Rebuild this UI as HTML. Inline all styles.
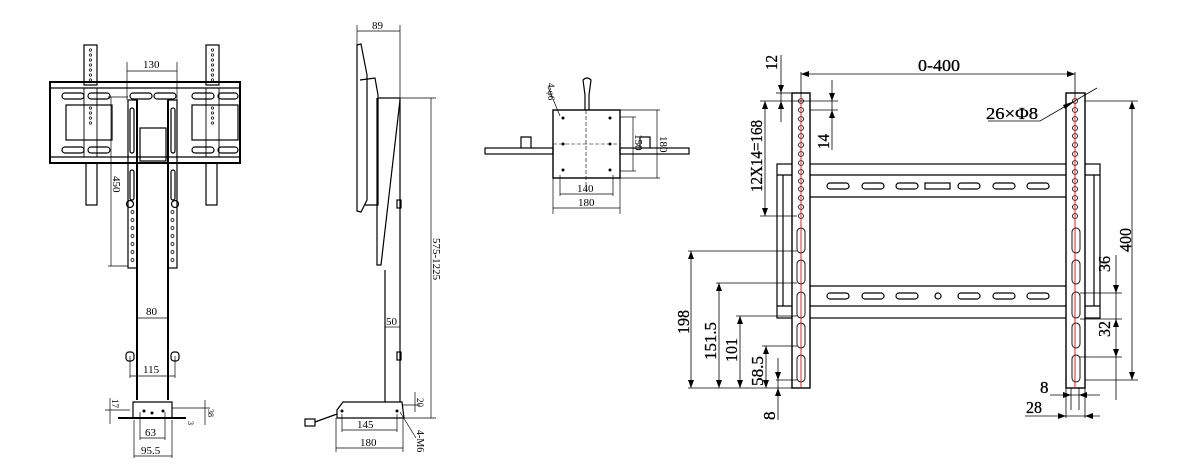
<!DOCTYPE html>
<html><head><meta charset="utf-8"><style>
html,body{margin:0;padding:0;background:#fff;width:1200px;height:475px;overflow:hidden}
svg text{font-family:"Liberation Serif",serif;fill:#000}
</style></head><body>
<svg width="1200" height="475" viewBox="0 0 1200 475" xmlns="http://www.w3.org/2000/svg">
<g fill="none" stroke="#000" stroke-width="1.2">
<!-- ===== LEFT FRONT VIEW ===== -->
<rect x="84" y="45" width="13" height="40"/><rect x="206" y="45" width="13" height="40"/>
<rect x="50" y="82" width="190" height="81" stroke-width="2"/>
<line x1="50" y1="88" x2="240" y2="88"/><line x1="50" y1="157" x2="240" y2="157"/>
<rect x="66" y="105" width="46" height="35"/><rect x="192" y="105" width="46" height="35"/>
<rect x="84" y="88" width="13" height="69" stroke-width="0.9"/><rect x="206" y="88" width="13" height="69" stroke-width="0.9"/>
<rect x="62" y="93" width="22" height="6" rx="3"/><rect x="88" y="93" width="22" height="6" rx="3"/>
<rect x="62" y="147" width="22" height="6" rx="3"/><rect x="88" y="147" width="22" height="6" rx="3"/>
<rect x="130" y="93" width="22" height="6" rx="3"/><rect x="154" y="93" width="22" height="6" rx="3"/>
<rect x="192" y="93" width="22" height="6" rx="3"/><rect x="218" y="93" width="20" height="6" rx="3"/>
<rect x="192" y="147" width="22" height="6" rx="3"/><rect x="218" y="147" width="20" height="6" rx="3"/>
<rect x="86" y="163" width="11" height="42"/><rect x="206" y="163" width="11" height="42"/>
<rect x="128" y="100" width="9" height="168"/><rect x="168" y="100" width="9" height="168"/>
<rect x="130" y="108" width="4" height="45" rx="2"/><rect x="171" y="108" width="4" height="45" rx="2"/>
<rect x="130" y="170" width="4" height="30" rx="2"/><rect x="171" y="170" width="4" height="30" rx="2"/>
<circle cx="130" cy="204" r="3.5"/><circle cx="175" cy="204" r="3.5"/>
<rect x="140" y="128" width="26" height="33"/>
<line x1="137" y1="100" x2="137" y2="400" stroke-width="2"/><line x1="168" y1="100" x2="168" y2="400" stroke-width="2"/>
<rect x="126" y="352" width="8" height="9" rx="3"/><rect x="171" y="352" width="8" height="9" rx="3"/>
<path d="M133 418 V402 H172 V418"/><line x1="118" y1="418" x2="186" y2="418" stroke-width="2"/>
<g stroke-width="0.7">
<circle cx="90.5" cy="50" r="1.2"/><circle cx="90.5" cy="55" r="1.2"/><circle cx="90.5" cy="60" r="1.2"/><circle cx="90.5" cy="65" r="1.2"/><circle cx="90.5" cy="70" r="1.2"/><circle cx="90.5" cy="75" r="1.2"/><circle cx="90.5" cy="80" r="1.2"/>
<circle cx="212.5" cy="50" r="1.2"/><circle cx="212.5" cy="55" r="1.2"/><circle cx="212.5" cy="60" r="1.2"/><circle cx="212.5" cy="65" r="1.2"/><circle cx="212.5" cy="70" r="1.2"/><circle cx="212.5" cy="75" r="1.2"/><circle cx="212.5" cy="80" r="1.2"/>
<circle cx="90.5" cy="108" r="1.2"/><circle cx="90.5" cy="113" r="1.2"/><circle cx="90.5" cy="118" r="1.2"/><circle cx="90.5" cy="123" r="1.2"/>
<circle cx="212.5" cy="108" r="1.2"/><circle cx="212.5" cy="113" r="1.2"/><circle cx="212.5" cy="118" r="1.2"/><circle cx="212.5" cy="123" r="1.2"/>
<circle cx="132.5" cy="212" r="1.5"/><circle cx="132.5" cy="220" r="1.5"/><circle cx="132.5" cy="228" r="1.5"/><circle cx="132.5" cy="236" r="1.5"/><circle cx="132.5" cy="244" r="1.5"/><circle cx="132.5" cy="252" r="1.5"/><circle cx="132.5" cy="260" r="1.5"/>
<circle cx="172.5" cy="212" r="1.5"/><circle cx="172.5" cy="220" r="1.5"/><circle cx="172.5" cy="228" r="1.5"/><circle cx="172.5" cy="236" r="1.5"/><circle cx="172.5" cy="244" r="1.5"/><circle cx="172.5" cy="252" r="1.5"/><circle cx="172.5" cy="260" r="1.5"/>
</g>
<!-- dims -->
<g stroke-width="0.7">
<line x1="127" y1="62" x2="127" y2="100"/><line x1="177" y1="62" x2="177" y2="100"/><line x1="127" y1="71" x2="177" y2="71"/>
<line x1="108" y1="97" x2="128" y2="97"/><line x1="108" y1="266" x2="128" y2="266"/><line x1="111" y1="97" x2="111" y2="266"/>
<line x1="137" y1="318" x2="168" y2="318"/>
<line x1="130" y1="356" x2="130" y2="378"/><line x1="175" y1="356" x2="175" y2="378"/><line x1="130" y1="376" x2="175" y2="376"/>
<line x1="110" y1="398" x2="110" y2="424"/><line x1="105" y1="410" x2="130" y2="410"/>
<line x1="172" y1="408" x2="210" y2="408"/><line x1="205" y1="400" x2="205" y2="425"/>
<line x1="140" y1="412" x2="140" y2="440"/><line x1="165" y1="412" x2="165" y2="440"/><line x1="140" y1="438" x2="165" y2="438"/>
<line x1="134" y1="420" x2="134" y2="458"/><line x1="172" y1="420" x2="172" y2="458"/><line x1="134" y1="456" x2="172" y2="456"/>
</g>
<!-- ===== SIDE VIEW ===== -->
<path d="M357 45 L361 44 L367 75 L367 200 L361 212 L357 211 Z"/>
<path d="M360 80 L375 78 L378 95 L378 205 L365 205"/>
<line x1="378" y1="98" x2="400" y2="98"/>
<path d="M377 98 L377 265 L381 265 L400 100"/>
<line x1="400" y1="98" x2="400" y2="402"/><line x1="385" y1="270" x2="385" y2="402"/>
<rect x="397" y="200" width="4" height="8"/><rect x="397" y="352" width="4" height="8"/>
<path d="M337 418 V410 L343 402 H402 L404 418 Z"/>
<rect x="305" y="419" width="10" height="7"/><line x1="315" y1="422" x2="337" y2="414"/>
<g stroke-width="0.7">
<line x1="357" y1="25" x2="357" y2="48"/><line x1="400" y1="25" x2="400" y2="98"/><line x1="357" y1="31" x2="400" y2="31"/>
<line x1="400" y1="98" x2="436" y2="98"/><line x1="402" y1="418" x2="436" y2="418"/><line x1="431" y1="98" x2="431" y2="418"/>
<line x1="385" y1="327" x2="400" y2="327"/>
<line x1="403" y1="405" x2="420" y2="405"/><line x1="415" y1="392" x2="415" y2="412"/>
<line x1="400" y1="412" x2="416" y2="438"/>
<line x1="342" y1="414" x2="342" y2="432"/><line x1="397" y1="414" x2="397" y2="432"/><line x1="342" y1="430" x2="397" y2="430"/>
<line x1="336" y1="418" x2="336" y2="452"/><line x1="403" y1="418" x2="403" y2="452"/><line x1="336" y1="448" x2="403" y2="448"/>
</g>
<!-- ===== TOP VIEW ===== -->
<rect x="553" y="110" width="67" height="68" stroke-width="1.4"/>
<rect x="485" y="148" width="68" height="6"/><rect x="620" y="148" width="69" height="6"/>
<path d="M521 148 V137 H531 V148"/><path d="M640 148 V137 H650 V148"/>
<path d="M585 110 V95 L583 80 Q587 76 591 80 L589 95 V110"/>
<g stroke-width="0.6" stroke-dasharray="4,2"><line x1="586" y1="110" x2="586" y2="190"/><line x1="553" y1="144" x2="620" y2="144"/></g>
<g stroke-width="0.7">
<line x1="560" y1="175" x2="560" y2="196"/><line x1="613" y1="175" x2="613" y2="196"/><line x1="560" y1="194" x2="613" y2="194"/>
<line x1="553" y1="178" x2="553" y2="214"/><line x1="620" y1="178" x2="620" y2="214"/><line x1="553" y1="208" x2="620" y2="208"/>
<line x1="620" y1="117" x2="636" y2="117"/><line x1="620" y1="171" x2="636" y2="171"/><line x1="633" y1="117" x2="633" y2="171"/>
<line x1="620" y1="110" x2="660" y2="110"/><line x1="620" y1="178" x2="660" y2="178"/><line x1="657" y1="110" x2="657" y2="178"/>
<line x1="548" y1="87" x2="560" y2="116"/>
</g>
<!-- ===== RIGHT BRACKET ===== -->
<rect x="777" y="164" width="323" height="154"/>
<line x1="783" y1="175" x2="783" y2="306"/><line x1="1094" y1="175" x2="1094" y2="306"/>
<line x1="777" y1="175" x2="1100" y2="175"/><line x1="810" y1="197" x2="1066" y2="197"/>
<line x1="810" y1="286" x2="1066" y2="286"/><line x1="777" y1="306" x2="1100" y2="306"/>
<g>
<rect x="827" y="183" width="22" height="6" rx="3"/><rect x="862" y="183" width="22" height="6" rx="3"/><rect x="896" y="183" width="22" height="6" rx="3"/><rect x="925" y="183" width="25" height="6"/><rect x="958" y="183" width="22" height="6" rx="3"/><rect x="993" y="183" width="22" height="6" rx="3"/><rect x="1027" y="183" width="22" height="6" rx="3"/>
<rect x="827" y="293" width="22" height="6" rx="3"/><rect x="862" y="293" width="22" height="6" rx="3"/><rect x="896" y="293" width="22" height="6" rx="3"/><circle cx="938" cy="296" r="3"/><rect x="958" y="293" width="22" height="6" rx="3"/><rect x="993" y="293" width="22" height="6" rx="3"/><rect x="1027" y="293" width="22" height="6" rx="3"/>
</g>
<rect x="792" y="93" width="18" height="295" fill="#fff" stroke-width="1.4"/>
<rect x="1066" y="93" width="19" height="295" fill="#fff" stroke-width="1.4"/>
<g stroke-width="0.9">
<rect x="797" y="228" width="8" height="25" rx="4"/><rect x="797" y="260" width="8" height="24" rx="4"/><rect x="797" y="292" width="8" height="26" rx="4"/><rect x="797" y="323" width="8" height="25" rx="4"/><rect x="797" y="355" width="8" height="27" rx="4"/>
<rect x="1072" y="228" width="8" height="25" rx="4"/><rect x="1072" y="260" width="8" height="24" rx="4"/><rect x="1072" y="292" width="8" height="26" rx="4"/><rect x="1072" y="323" width="8" height="25" rx="4"/><rect x="1072" y="355" width="8" height="27" rx="4"/>
</g>
<g stroke-width="0.8">
<circle cx="801" cy="101" r="2.5"/><circle cx="801" cy="110" r="2.5"/><circle cx="801" cy="119" r="2.5"/><circle cx="801" cy="128" r="2.5"/><circle cx="801" cy="136" r="2.5"/><circle cx="801" cy="145" r="2.5"/><circle cx="801" cy="154" r="2.5"/><circle cx="801" cy="163" r="2.5"/><circle cx="801" cy="172" r="2.5"/><circle cx="801" cy="181" r="2.5"/><circle cx="801" cy="189" r="2.5"/><circle cx="801" cy="198" r="2.5"/><circle cx="801" cy="207" r="2.5"/><circle cx="801" cy="216" r="2.5"/>
<circle cx="1075" cy="101" r="2.5"/><circle cx="1075" cy="110" r="2.5"/><circle cx="1075" cy="119" r="2.5"/><circle cx="1075" cy="128" r="2.5"/><circle cx="1075" cy="136" r="2.5"/><circle cx="1075" cy="145" r="2.5"/><circle cx="1075" cy="154" r="2.5"/><circle cx="1075" cy="163" r="2.5"/><circle cx="1075" cy="172" r="2.5"/><circle cx="1075" cy="181" r="2.5"/><circle cx="1075" cy="189" r="2.5"/><circle cx="1075" cy="198" r="2.5"/><circle cx="1075" cy="207" r="2.5"/><circle cx="1075" cy="216" r="2.5"/>
</g>
<line x1="801" y1="97" x2="801" y2="388" stroke="#e22" stroke-width="1"/>
<line x1="1075" y1="97" x2="1075" y2="388" stroke="#e22" stroke-width="1"/>
<g stroke-width="0.8">
<line x1="801" y1="72" x2="801" y2="97"/><line x1="1075" y1="72" x2="1075" y2="97"/><line x1="801" y1="74" x2="1075" y2="74"/>
<line x1="781" y1="55" x2="781" y2="122"/><line x1="776" y1="93" x2="792" y2="93"/>
<line x1="760" y1="101" x2="838" y2="101"/><line x1="810" y1="110" x2="838" y2="110"/><line x1="832" y1="80" x2="832" y2="150"/>
<line x1="765" y1="101" x2="765" y2="216"/><line x1="760" y1="216" x2="797" y2="216"/>
<line x1="688" y1="251" x2="797" y2="251"/><line x1="688" y1="388" x2="810" y2="388"/><line x1="691" y1="251" x2="691" y2="388"/>
<line x1="716" y1="283" x2="797" y2="283"/><line x1="719" y1="283" x2="719" y2="388"/>
<line x1="736" y1="316" x2="797" y2="316"/><line x1="740" y1="316" x2="740" y2="388"/>
<line x1="762" y1="346" x2="797" y2="346"/><line x1="766" y1="346" x2="766" y2="388"/>
<line x1="778" y1="358" x2="778" y2="420"/><line x1="776" y1="380" x2="797" y2="380"/>
<line x1="1085" y1="101" x2="1138" y2="101"/><line x1="1085" y1="380" x2="1138" y2="380"/><line x1="1132" y1="101" x2="1132" y2="380"/>
<line x1="1080" y1="293" x2="1122" y2="293"/><line x1="1080" y1="319" x2="1122" y2="319"/><line x1="1080" y1="357" x2="1122" y2="357"/><line x1="1116" y1="255" x2="1116" y2="400"/>
<line x1="1071" y1="388" x2="1071" y2="410"/><line x1="1079" y1="388" x2="1079" y2="410"/><line x1="1050" y1="395" x2="1100" y2="395"/>
<line x1="1066" y1="388" x2="1066" y2="418"/><line x1="1085" y1="388" x2="1085" y2="418"/><line x1="1025" y1="416" x2="1100" y2="416"/>
<path d="M988 121 H1040 L1097 88"/>
</g>
</g>
<g fill="#000">
<path d="M801 74 l8 -3 v6z M1075 74 l-8 -3 v6z M781 93 l-3 -8 h6z M781 101 l-3 8 h6z M832 101 l-3 -8 h6z M832 110 l-3 8 h6z M765 101 l-3 8 h6z M765 216 l-3 -8 h6z M691 251 l-3 8 h6z M691 388 l-3 -8 h6z M719 283 l-3 8 h6z M719 388 l-3 -8 h6z M740 316 l-3 8 h6z M740 388 l-3 -8 h6z M766 346 l-3 8 h6z M766 388 l-3 -8 h6z M778 380 l-3 -8 h6z M778 388 l-3 8 h6z M1132 101 l-3 8 h6z M1132 380 l-3 -8 h6z M1116 293 l-3 -8 h6z M1116 319 l-3 8 h6z M1116 357 l-3 -8 h6z M1071 395 l-8 -3 v6z M1079 395 l8 -3 v6z M1066 416 l-8 -3 v6z M1085 416 l8 -3 v6z M1075 101 l-10 8 l-2 -4z"/>
<circle cx="563" cy="118" r="1.5"/><circle cx="610" cy="118" r="1.5"/><circle cx="563" cy="144" r="1.5"/><circle cx="610" cy="144" r="1.5"/><circle cx="563" cy="170" r="1.5"/><circle cx="610" cy="170" r="1.5"/>
<circle cx="144" cy="411" r="1.5"/><circle cx="152" cy="413" r="1.5"/><circle cx="163" cy="411" r="1.5"/>
<circle cx="342" cy="411" r="1.5"/><circle cx="397" cy="411" r="1.5"/>
</g>
<!-- text -->
<g font-size="11">
<text x="143" y="68">130</text>
<text x="146" y="315">80</text>
<text x="143" y="373">115</text>
<text x="145" y="436">63</text>
<text x="141" y="454">95.5</text>
<text transform="translate(113,176) rotate(90)">450</text>
<text transform="translate(112,399) rotate(90)" font-size="9">17</text>
<text transform="translate(208,409) rotate(90)" font-size="8">38</text>
<text transform="translate(188,421) rotate(90)" font-size="8">3</text>
<text x="372" y="29">89</text>
<text x="386" y="325">50</text>
<text x="357" y="428">145</text>
<text x="360" y="446">180</text>
<text transform="translate(433,238) rotate(90)">575-1225</text>
<text transform="translate(417,398) rotate(90)" font-size="9">20</text>
<text transform="translate(417,430) rotate(90)" font-size="10">4-M6</text>
<text transform="translate(548,83) rotate(90)" font-size="9">4-φ6</text>
<text x="577" y="192">140</text>
<text x="578" y="206">180</text>
<text transform="translate(635,134) rotate(90)">150</text>
<text transform="translate(660,136) rotate(90)">180</text>
</g>
<g font-size="17" font-family="Liberation Sans, sans-serif" stroke="#000" stroke-width="0.3">
<text x="918" y="71" textLength="42" lengthAdjust="spacingAndGlyphs">0-400</text>
<text x="986" y="119" textLength="52" lengthAdjust="spacingAndGlyphs">26×Φ8</text>
<text transform="translate(777,70) rotate(-90)" textLength="15" lengthAdjust="spacingAndGlyphs">12</text>
<text transform="translate(829,149) rotate(-90)" textLength="15" lengthAdjust="spacingAndGlyphs">14</text>
<text transform="translate(762,192) rotate(-90)" textLength="72" lengthAdjust="spacingAndGlyphs">12X14=168</text>
<text transform="translate(689,334) rotate(-90)" textLength="24" lengthAdjust="spacingAndGlyphs">198</text>
<text transform="translate(716,360) rotate(-90)" textLength="38" lengthAdjust="spacingAndGlyphs">151.5</text>
<text transform="translate(737,362) rotate(-90)" textLength="24" lengthAdjust="spacingAndGlyphs">101</text>
<text transform="translate(763,386) rotate(-90)" textLength="30" lengthAdjust="spacingAndGlyphs">58.5</text>
<text transform="translate(775,420) rotate(-90)">8</text>
<text transform="translate(1131,252) rotate(-90)" textLength="24" lengthAdjust="spacingAndGlyphs">400</text>
<text transform="translate(1110,272) rotate(-90)" textLength="16" lengthAdjust="spacingAndGlyphs">36</text>
<text transform="translate(1110,337) rotate(-90)" textLength="16" lengthAdjust="spacingAndGlyphs">32</text>
<text x="1040" y="393">8</text>
<text x="1026" y="413" textLength="16" lengthAdjust="spacingAndGlyphs">28</text>
</g>
</svg>
</body></html>
